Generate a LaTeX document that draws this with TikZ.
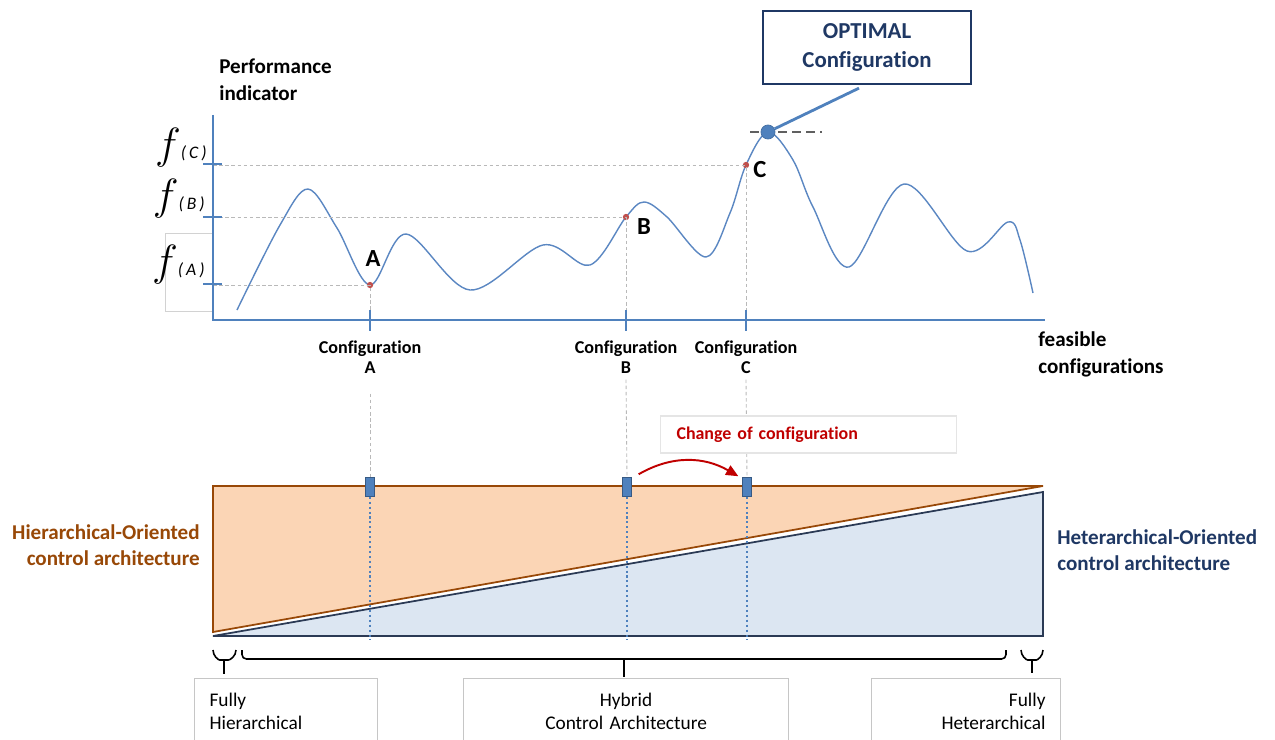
\documentclass[tikz,border=0pt]{standalone}
\usepackage{fontspec}
\setmainfont{Carlito}[Ligatures=NoCommon]
\usepackage{tikz}
\usetikzlibrary{positioning, arrows.meta, calc}

\definecolor{axisblue}{HTML}{4F81BD}
\definecolor{curveblue}{HTML}{5B87C2}
\definecolor{dotred}{HTML}{C0504D}
\definecolor{navy}{HTML}{1F3864}
\definecolor{hierbrown}{HTML}{984807}
\definecolor{hierfill}{HTML}{FBD5B5}
\definecolor{heterfill}{HTML}{DCE6F2}
\definecolor{heterline}{HTML}{2B3A55}
\definecolor{changered}{HTML}{C00000}

\begin{document}
\begin{tikzpicture}[x=0.02cm, y=-0.02cm,
    axisline/.style={axisblue, line width=1.4pt},
    tickmark/.style={axisblue, line width=1.1pt},
    guide/.style={gray!55, line width=0.5pt, dash pattern=on 2pt off 1.5pt},
    reddot/.style={circle, fill=dotred, inner sep=0pt, minimum size=3.6pt},
    ptlbl/.style={font=\fontsize{14}{16}\selectfont\bfseries},
    cfglbl/.style={font=\fontsize{10.3}{11.4}\selectfont\bfseries, align=center},
    axislbl/.style={font=\fontsize{12}{15.3}\selectfont\bfseries, align=left, anchor=west, inner sep=0pt},
    flbl/.style={anchor=base east, inner sep=0pt},
    cfgmark/.style={fill=axisblue, draw=axisblue!70!black, line width=0.3pt,
                    minimum width=5pt, minimum height=10.8pt, inner sep=0pt},
    dropline/.style={axisblue, line width=1.3pt, dash pattern=on 1.2pt off 1.6pt},
    catbox/.style={draw=gray!45, fill=white, line width=0.7pt, font=\fontsize{11}{13}\selectfont,
                   anchor=north west, inner xsep=0.3cm, minimum height=1.32cm},
    archlbl/.style={font=\fontsize{12}{14.7}\selectfont\bfseries, inner sep=0pt},
    archbrace/.style={line width=0.9pt, rounded corners=2.5pt},
]
\clip (0,0) rectangle (1275,740);

% === Performance landscape ===
\draw[gray!35, line width=0.4pt] (165,233) rectangle (213,311);

\coordinate (O) at (213,320);
\coordinate (ytop) at (213,115);
\coordinate (xend) at (1045,320);

\node[axislbl] (perf) at (219,79.5) {Performance\\indicator};
\node[axislbl] (feas) at (1038,354) {feasible\\configurations};

% curve
\draw[curveblue, line width=0.8pt] plot[smooth, tension=0.55] coordinates {
    (237,310) (280,225) (308,189) (337,228) (370,285) (406,234) (470,290)
    (543,245) (590,265) (626,217) (644,202) (667,217) (706,257) (730,213)
    (746,165) (768,132) (793,160) (813,207) (849,267) (904,184) (967,251)
    (1008,222) (1020,240) (1033,293)};

% points on the curve
\node[reddot] (ptA) at (370,285) {};
\node[reddot] (ptB) at (626,217) {};
\node[reddot] (ptC) at (746,165) {};
\node[ptlbl] (lblA) at (373,259) {A};
\node[ptlbl] (lblB) at (644,227) {B};
\node[ptlbl] (lblC) at (760,170) {C};

% guides to the axes
\foreach \p in {ptA, ptB, ptC}
    \draw[guide] (\p -| O) -- (\p.center) -- (\p |- O);

% optimum
\draw[gray!75!black, line width=0.6pt, dash pattern=on 5pt off 3pt] (750,132) -- (822,132);
\node[circle, fill=axisblue, draw=axisblue!85!black, inner sep=0pt, minimum size=8pt] (opt) at (768,132) {};
\node[draw=navy, line width=1.3pt, text=navy, font=\fontsize{13}{16.4}\selectfont\bfseries,
      align=center, minimum width=4.16cm, minimum height=1.46cm] (optbox) at (867,47.5) {OPTIMAL\\Configuration};
\draw[axisblue, line width=1.6pt] (opt) -- ($(optbox.south)+(-8,3)$);

% axes
\draw[axisline] (ytop) -- (O) -- (xend);
\foreach \y in {164, 217, 284}
    \draw[tickmark] (203,\y) -- (222,\y);
\foreach \x in {370, 626, 746}
    \draw[tickmark] (\x,310) -- (\x,331);

\node[flbl] (fC) at (207,158) {{\fontsize{23}{25}\selectfont$f$}{\fontsize{10}{12}\selectfont\itshape(\,C\,)}};
\node[flbl] (fB) at (205,210) {{\fontsize{23}{25}\selectfont$f$}{\fontsize{10}{12}\selectfont\itshape(\,B\,)}};
\node[flbl] (fA) at (205,275) {{\fontsize{23}{25}\selectfont$f$}{\fontsize{10}{12}\selectfont\itshape(\,A\,)}};

\node[cfglbl] (cfgA) at (370,357) {Configuration\\A};
\node[cfglbl] (cfgB) at (626,357) {Configuration\\B};
\node[cfglbl] (cfgC) at (746,357) {Configuration\\C};

% === Architecture spectrum ===
\draw[hierbrown, fill=hierfill, line width=1pt] (213,486) -- (1043,486) -- (213,632) -- cycle;
\draw[heterline, fill=heterfill, line width=1pt] (213,636) -- (1043,492) -- (1043,636) -- cycle;
\coordinate (base) at (213,640);

\node[cfgmark] (mkA) at (370,487) {};
\node[cfgmark] (mkB) at (627,487) {};
\node[cfgmark] (mkC) at (747,487) {};

\draw[guide] ($(cfgA.south)+(0,14)$) -- (mkA.north);
\draw[guide] (cfgB.south) -- (mkB.north);
\draw[guide] (cfgC.south) -- (mkC.north);
\foreach \m in {mkA, mkB, mkC}
    \draw[dropline] (\m.south) -- (\m |- base);

\node[draw=gray!20, fill=white, line width=0.6pt, anchor=west, text width=5.28cm, inner xsep=0.32cm,
      minimum height=0.74cm, text=changered, font=\fontsize{10.2}{12}\selectfont\bfseries] (change) at (660,434.5) {Change of configuration};
\draw[changered, line width=1.1pt, -{Triangle[length=7pt, width=6pt]}]
    ($(mkB.north east)+(7,-3)$) to[out=30, in=150] ($(mkC.north west)+(-4,-1)$);

\node[archlbl, text=hierbrown, align=right, anchor=east] (hierlbl) at (200,545) {Hierarchical-Oriented\\control architecture};
\node[archlbl, text=navy, align=left, anchor=west] (heterlbl) at (1057,550.5) {Heterarchical-Oriented\\control architecture};

% braces and categories
\draw[archbrace] (213,650) to[out=-90, in=180] (224,660) to[out=0, in=-90] (236,650);
\draw[archbrace] (224,660) -- (224,674);
\draw[archbrace] (242,650) -- (242,659) -- (1006,659) -- (1006,650);
\draw[archbrace] (624,659) -- (624,677);
\draw[archbrace] (1021,650) to[out=-90, in=180] (1032,660) to[out=0, in=-90] (1043,650);
\draw[archbrace] (1032,660) -- (1032,673);

\node[catbox, text width=3.06cm, align=left] (fullhier) at (194,678) {Fully\\Hierarchical};
\node[catbox, text width=5.9cm, align=center] (hybrid) at (463,678) {Hybrid\\Control Architecture};
\node[catbox, text width=3.18cm, align=right] (fullhet) at (871,678) {Fully\\Heterarchical};

\end{tikzpicture}
\end{document}
